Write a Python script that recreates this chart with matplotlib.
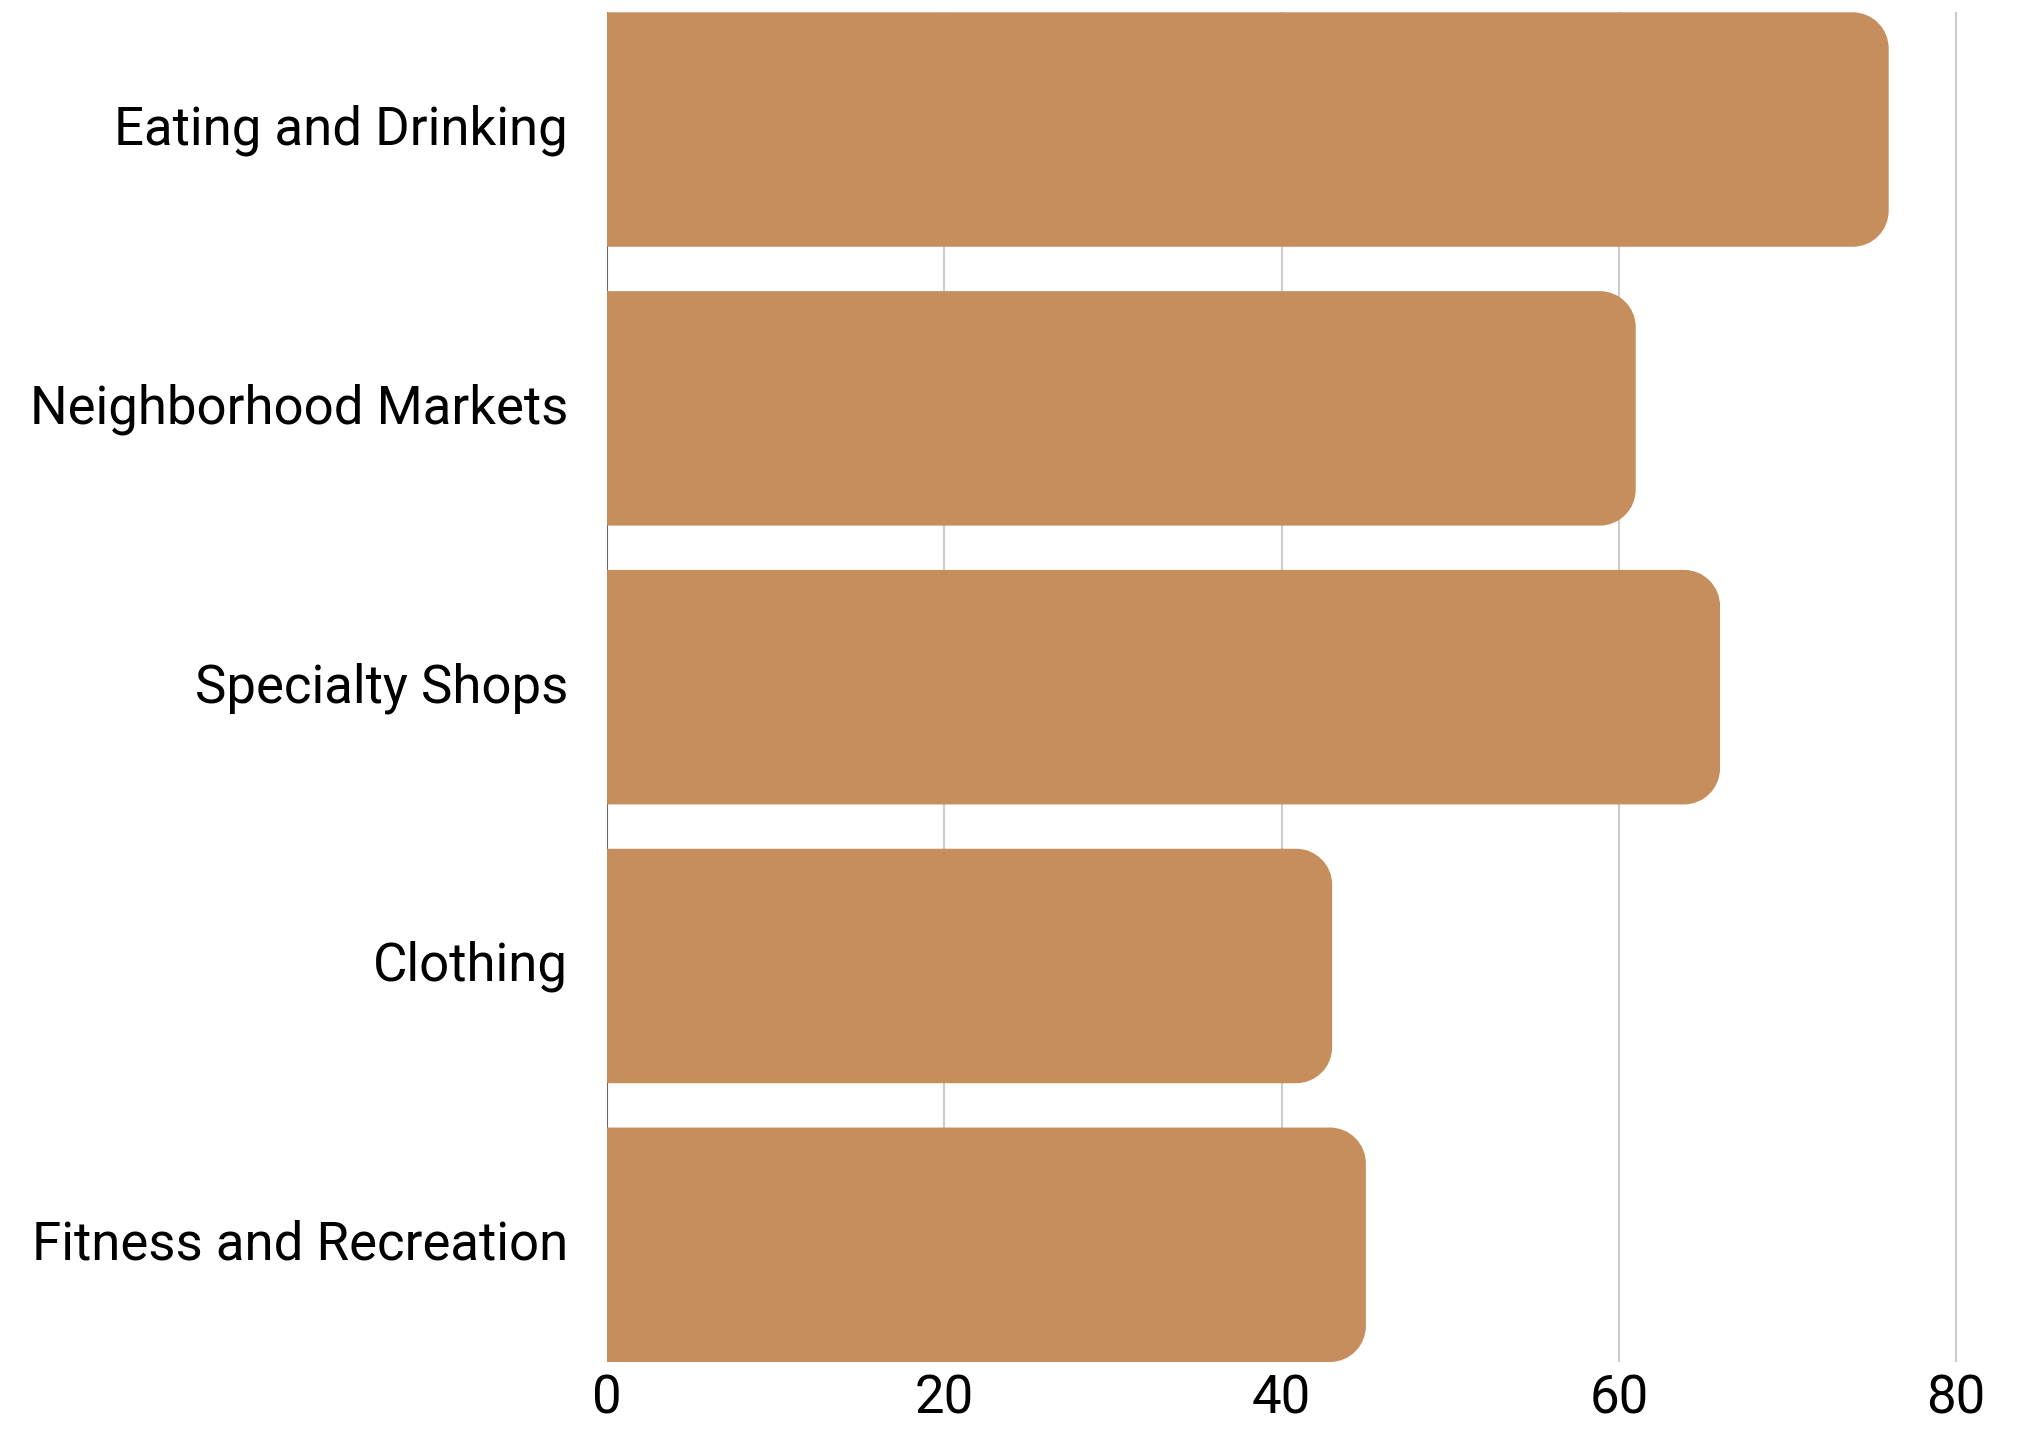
import matplotlib
matplotlib.use("Agg")
import matplotlib.pyplot as plt
from matplotlib.path import Path
from matplotlib.patches import PathPatch

#data
categories = ["Eating and Drinking", "Neighborhood Markets", "Specialty Shops",
              "Clothing", "Fitness and Recreation"]
values = [76, 61, 66, 43, 45]
xticks = [0, 20, 40, 60, 80]

plt.rcParams["font.family"] = ["Roboto", "DejaVu Sans"]

bar_color = "#c68e5c"
bar_h = 0.841

fig = plt.figure(figsize=(20.21, 14.31), dpi=100)
ax = fig.add_axes([607 / 2021, 0.0482, 1366 / 2021, 0.9432])
ax.set_xlim(0, 81)
ax.set_ylim(len(categories) - 1 + bar_h / 2, -bar_h / 2)

#corner radius in data units (about 36 px each way)
rx = 36 / 16.866
ry = 36 / 278.7
k = 0.5523

def rounded_bar(y, w):
    y0, y1 = y - bar_h / 2, y + bar_h / 2
    verts = [
        (0, y0), (w - rx, y0),
        (w - rx + k * rx, y0), (w, y0 + ry - k * ry), (w, y0 + ry),
        (w, y1 - ry),
        (w, y1 - ry + k * ry), (w - rx + k * rx, y1), (w - rx, y1),
        (0, y1), (0, y0),
    ]
    codes = [Path.MOVETO, Path.LINETO,
             Path.CURVE4, Path.CURVE4, Path.CURVE4,
             Path.LINETO,
             Path.CURVE4, Path.CURVE4, Path.CURVE4,
             Path.LINETO, Path.CLOSEPOLY]
    return PathPatch(Path(verts, codes), facecolor=bar_color, edgecolor="none", zorder=3)

for i, v in enumerate(values):
    ax.add_patch(rounded_bar(i, v))

#gridlines
for t in xticks[1:]:
    ax.axvline(t, color="#cccccc", linewidth=1.5, zorder=1)
ax.axvline(0, color="#666666", linewidth=1.5, zorder=2)

for s in ax.spines.values():
    s.set_visible(False)

ax.set_yticks(range(len(categories)))
ax.set_yticklabels(categories, fontsize=38)
ax.set_xticks(xticks)
ax.set_xticklabels([str(t) for t in xticks], fontsize=38)
ax.tick_params(axis="y", length=0, pad=28)
ax.tick_params(axis="x", length=0, pad=8)
for lbl in ax.get_yticklabels():
    lbl.set_y(lbl.get_position()[1])
    lbl.set_transform(lbl.get_transform() + matplotlib.transforms.ScaledTranslation(0, 5 / 100, fig.dpi_scale_trans))

fig.savefig("out.png", dpi=100)
